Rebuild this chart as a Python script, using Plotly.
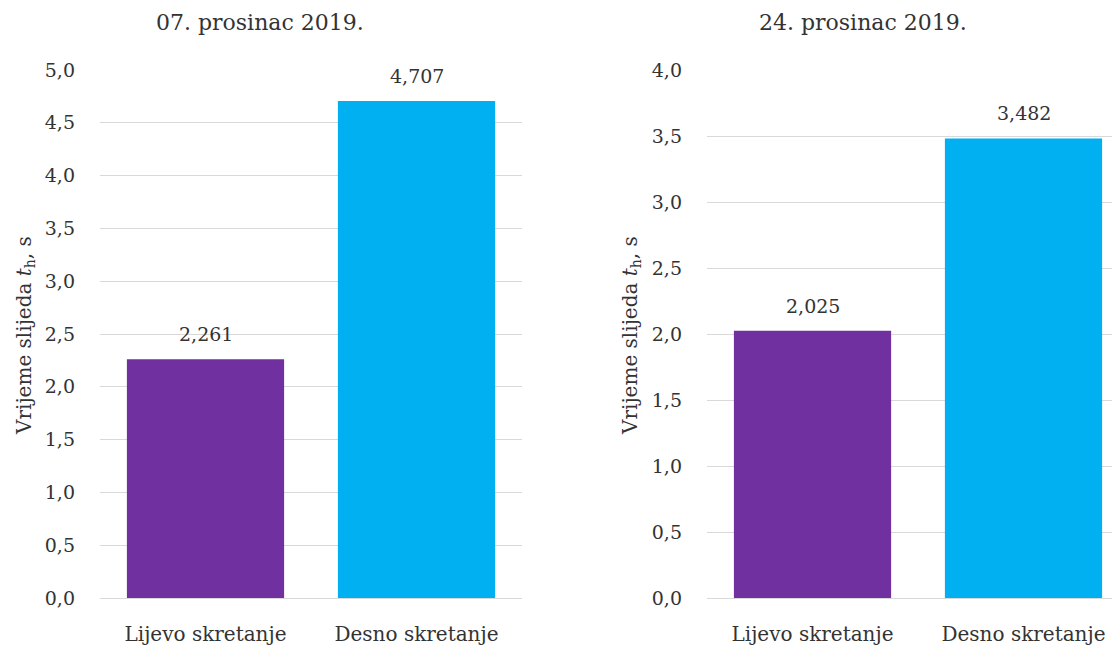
import plotly.graph_objects as go

# data
categories = ["Lijevo skretanje", "Desno skretanje"]
dates = ["07. prosinac 2019.", "24. prosinac 2019."]
values_07 = [2.261, 4.707]
values_24 = [2.025, 3.482]
bar_colors = ["#7030A0", "#00B0F0"]
y_max = [5.0, 4.0]

FONT = "DejaVu Serif"
TXT = "#333333"
# the page adds an 8px body margin, so the figure is drawn 8px smaller
W, H = 1112, 638


def px(x):
    # page x pixel -> paper fraction
    return (x - 8) / W


def py(y):
    # page y pixel (from top) -> paper fraction
    return 1 - (y - 8) / H


fig = go.Figure()

panels = [values_07, values_24]
for i, vals in enumerate(panels):
    suffix = "" if i == 0 else "2"
    fig.add_trace(go.Bar(
        x=categories, y=vals,
        marker=dict(color=bar_colors, line=dict(width=0)),
        width=0.745,
        xaxis="x" + suffix, yaxis="y" + suffix,
        showlegend=False,
        hoverinfo="skip",
    ))
    # value labels above the bars
    for cat, v in zip(categories, vals):
        fig.add_annotation(
            x=cat, y=v, xref="x" + suffix, yref="y" + suffix,
            text=f"{v:.3f}".replace(".", ","), showarrow=False,
            yshift=25, yanchor="middle",
            font=dict(family=FONT, size=19, color=TXT),
        )

tick_font = dict(family=FONT, size=19, color=TXT)
ycommon = dict(
    showgrid=True, gridcolor="#d9d9d9", gridwidth=1,
    zeroline=False, showline=False, automargin=False,
    dtick=0.5, tickformat=".1f", ticklabelstandoff=24,
    tickfont=tick_font, fixedrange=True,
)
xcommon = dict(
    showgrid=False, showline=True, linecolor="#d9d9d9", linewidth=1,
    ticklabelstandoff=18, tickfont=dict(family=FONT, size=20, color=TXT),
    automargin=False, fixedrange=True,
)

fig.update_layout(
    width=W, height=H,
    margin=dict(l=0, r=0, t=0, b=0),
    paper_bgcolor="white", plot_bgcolor="white",
    separators=",.",
    xaxis=dict(domain=[px(100), px(522)], range=[-0.5, 1.5], **xcommon),
    yaxis=dict(domain=[py(598), py(70)], range=[0, y_max[0]], **ycommon),
    xaxis2=dict(domain=[px(707), 1.0], range=[-0.5, -0.5 + 413 / 211],
                anchor="y2", **xcommon),
    yaxis2=dict(domain=[py(598), py(70)], range=[0, y_max[1]], anchor="x2", **ycommon),
)

# panel titles and y-axis titles
title_x = [260, 863]
ylabel_x = [25, 631]
for i in range(2):
    fig.add_annotation(
        text=dates[i], xref="paper", yref="paper",
        x=px(title_x[i]), y=py(22), showarrow=False,
        xanchor="center", yanchor="middle",
        font=dict(family=FONT, size=22, color=TXT),
    )
    fig.add_annotation(
        text="Vrijeme slijeda <i>t</i><sub>h</sub>, s", xref="paper", yref="paper",
        x=px(ylabel_x[i]), y=py(336), showarrow=False, textangle=-90,
        xanchor="center", yanchor="middle",
        font=dict(family=FONT, size=20, color=TXT),
    )

fig.write_html("out.html")
